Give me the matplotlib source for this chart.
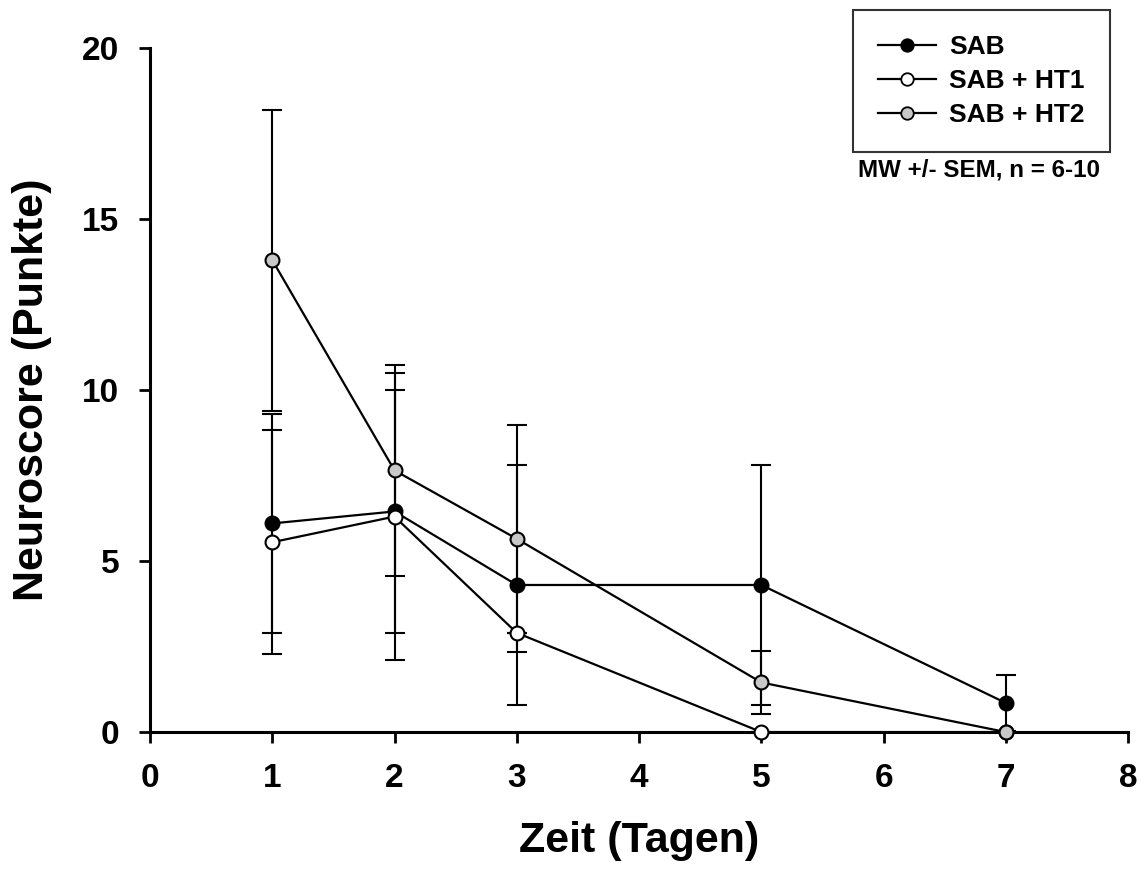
import matplotlib
matplotlib.use('Agg')
import matplotlib.pyplot as plt
from matplotlib.lines import Line2D
import numpy as np

# Messzeitpunkte (Tage nach SAB)
days = [1, 2, 3, 5, 7]

# Neuroscore, Mittelwerte und SEM je Gruppe
sab_mean = [6.1, 6.45, 4.3, 4.3, 0.85]
sab_sem = [3.2, 3.55, 3.5, 3.5, 0.83]

ht1_mean = [5.55, 6.3, 2.9, 0.0, 0.0]
ht1_sem = [3.27, 4.2, 0.0, 0.0, 0.0]

ht2_mean = [13.8, 7.65, 5.65, 1.45, 0.0]
ht2_sem = [4.4, 3.08, 3.32, 0.92, 0.0]

labels = ['SAB', 'SAB + HT1', 'SAB + HT2']
faces = ['black', 'white', '#c8c8c8']

plt.rcParams['font.family'] = ['Liberation Sans', 'DejaVu Sans']
plt.rcParams['font.weight'] = 'bold'

fig = plt.figure(figsize=(11.44, 8.82), dpi=100)
ax = fig.add_axes([0.1311, 0.170, 0.855, 0.7756])

series = [(sab_mean, sab_sem), (ht1_mean, ht1_sem), (ht2_mean, ht2_sem)]
for (m, s), fc, lab in zip(series, faces, labels):
    s = np.array(s)
    ax.errorbar(days, m, yerr=s, fmt='none', ecolor='black', elinewidth=1.5,
                capsize=7, capthick=1.5, zorder=2)
    ax.plot(days, m, '-o', color='black', lw=1.6, markersize=10,
            markerfacecolor=fc, markeredgecolor='black', markeredgewidth=1.5,
            label=lab, zorder=3, clip_on=False)

ax.set_xlim(0, 8)
ax.set_ylim(0, 20)
ax.set_xticks(range(0, 9))
ax.set_yticks([0, 5, 10, 15, 20])
for side in ('top', 'right'):
    ax.spines[side].set_visible(False)
for side in ('left', 'bottom'):
    ax.spines[side].set_linewidth(2.2)
ax.tick_params(direction='out', length=8, width=2, labelsize=24)
ax.tick_params(axis='x', pad=14)
ax.tick_params(axis='y', pad=14)

ax.set_xlabel('Zeit (Tagen)', fontsize=31, fontweight='bold', labelpad=20)
ax.set_ylabel('Neuroscore (Punkte)', fontsize=31, fontweight='bold', labelpad=22)

# Legende oben rechts, ragt über die Achsenfläche hinaus
handles = [Line2D([0], [0], color='black', lw=1.6, marker='o', markersize=9,
                  markerfacecolor=fc, markeredgecolor='black', markeredgewidth=1.3)
           for fc in faces]
leg = fig.legend(handles, labels, loc='upper left', bbox_to_anchor=(0.7456, 0.9887),
                 frameon=True, fancybox=False, edgecolor='black', fontsize=19,
                 handlelength=2.2, handletextpad=0.5, labelspacing=0.38,
                 borderpad=0.95, borderaxespad=0)
leg.get_frame().set_linewidth(1.5)
for t in leg.get_texts():
    t.set_fontweight('bold')

fig.text(0.8558, 0.807, 'MW +/- SEM, n = 6-10', ha='center', va='center',
         fontsize=17.4, fontweight='bold')

fig.savefig('out.png', dpi=100)
